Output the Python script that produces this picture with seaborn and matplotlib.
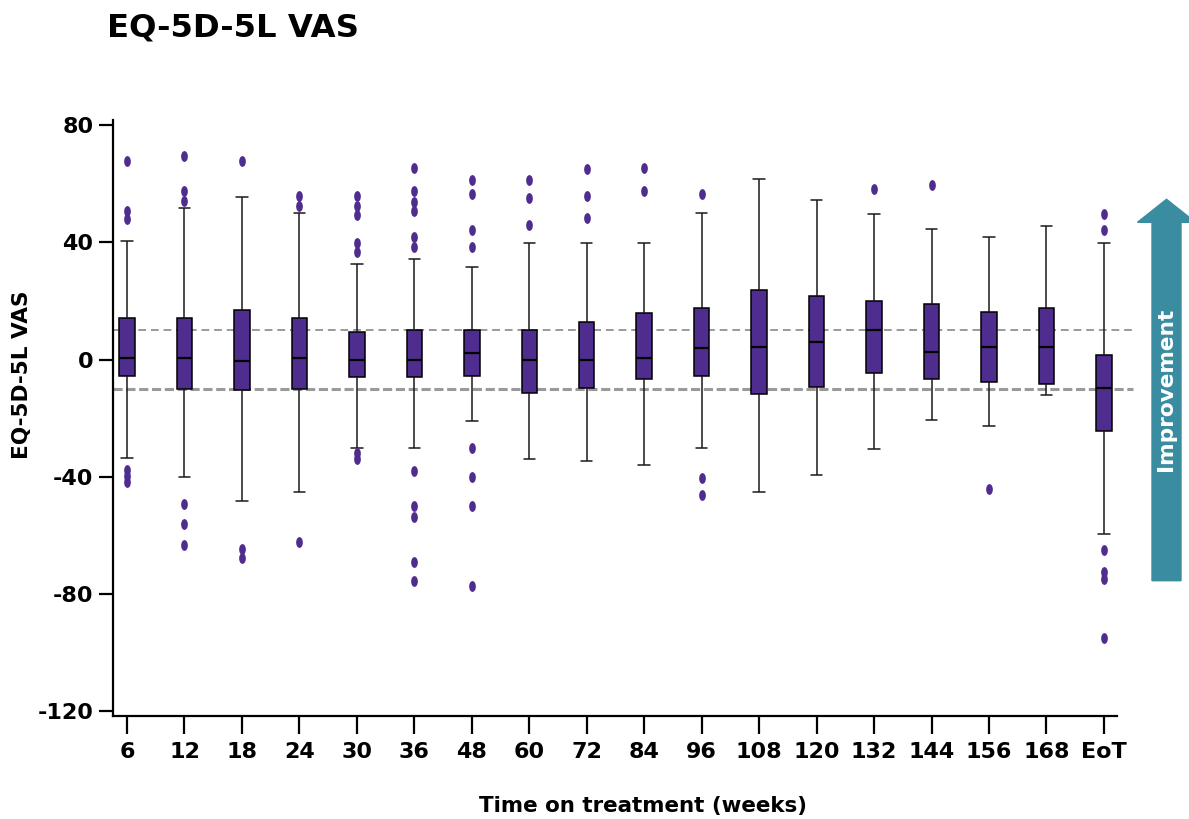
import numpy as np
import pandas as pd
import matplotlib
matplotlib.use("Agg")
import matplotlib.pyplot as plt
import seaborn as sns
from matplotlib.path import Path
from matplotlib.transforms import Affine2D
from matplotlib.patches import FancyArrow

# ---------------- data ----------------
weeks = ["6", "12", "18", "24", "30", "36", "48", "60", "72", "84",
         "96", "108", "120", "132", "144", "156", "168", "EoT"]
whisker_low = [-33.6, -40.1, -48.4, -45.1, -30.3, -30.0, -20.9, -33.8, -34.7,
               -36.1, -30.2, -45.3, -39.2, -30.5, -20.5, -22.6, -12.2, -59.6]
q1 = [-5.5, -10.0, -10.2, -10.0, -6.0, -6.0, -5.6, -11.4, -9.5,
      -6.5, -5.5, -11.7, -9.2, -4.5, -6.5, -7.5, -8.3, -24.2]
median = [0.5, 0.7, -0.5, 0.5, -0.1, 0.0, 2.2, 0.0, 0.0,
          0.5, 4.0, 4.2, 6.0, 10.2, 2.5, 4.4, 4.4, -9.8]
q3 = [14.1, 14.1, 17.0, 14.1, 9.3, 10.0, 10.0, 10.0, 12.7,
      15.9, 17.5, 23.9, 21.6, 19.9, 19.0, 16.1, 17.8, 1.5]
whisker_high = [40.6, 51.7, 55.6, 50.2, 32.7, 34.5, 31.7, 39.8, 39.8,
                39.8, 50.1, 61.6, 54.4, 49.8, 44.5, 41.7, 45.7, 39.8]

outlier_week = (["6"] * 6 + ["12"] * 6 + ["18"] * 3 + ["24"] * 3 + ["30"] * 7
                + ["36"] * 11 + ["48"] * 8 + ["60"] * 3 + ["72"] * 3 + ["84"] * 2
                + ["96"] * 3 + ["132"] + ["144"] + ["156"] + ["EoT"] * 6)
outlier_value = [67.9, 50.9, 48.1, -37.7, -39.8, -41.8,
                 69.6, 57.5, 54.0, -49.4, -56.1, -63.1,
                 67.9, -64.5, -67.6,
                 55.9, 52.3, -62.3,
                 55.9, 52.3, 49.3, 39.8, 36.7, -32.0, -33.9,
                 65.3, 57.4, 53.8, 50.6, 41.8, 38.4, -38.1, -50.0, -53.8, -69.0, -75.6,
                 61.3, 56.6, 44.3, 38.4, -30.1, -39.9, -50.0, -77.2,
                 61.3, 55.3, 46.1,
                 65.1, 55.7, 48.3,
                 65.3, 57.4,
                 56.5, -40.3, -46.3,
                 58.3,
                 59.5,
                 -44.2,
                 49.7, 44.1, -65.1, -72.5, -74.8, -94.9]

reference_levels = [10, -10]
y_ticks = [80, 40, 0, -40, -80, -120]

title = "EQ-5D-5L VAS"
y_label = "EQ-5D-5L VAS"
x_label = "Time on treatment (weeks)"
arrow_label = "Improvement"

# ---------------- styling ----------------
PURPLE = "#4F2D8F"
TEAL = "#3A8DA0"
GRAY = "#9a9a9a"

# five-number summaries -> long-form rows (quartiles reproduce exactly with n=5)
rows = []
for w, a, b, c, d, e in zip(weeks, whisker_low, q1, median, q3, whisker_high):
    for v in (a, b, c, d, e):
        rows.append({"week": w, "value": v})
box_df = pd.DataFrame(rows)
out_df = pd.DataFrame({"week": outlier_week, "value": outlier_value})

sns.set_theme(style="ticks")
plt.rcParams["font.family"] = ["DejaVu Sans"]
plt.rcParams["font.weight"] = "bold"
plt.rcParams["text.color"] = "black"
plt.rcParams["axes.labelcolor"] = "black"

fig = plt.figure(figsize=(11.89, 8.19), dpi=100)
ax = fig.add_axes([0.0950, 0.1258, 0.8444, 0.7277])

# reference lines (behind boxes, extending past the axis end)
ax.hlines(reference_levels[0], -0.244, 17.5, colors=GRAY, linewidth=1.4,
          linestyles=(0, (4, 2.5)), zorder=0.5, clip_on=False)
ax.hlines(reference_levels[1], -0.244, 17.5, colors=GRAY, linewidth=2.2,
          linestyles=(0, (3, 1.2)), zorder=0.5, clip_on=False)

sns.boxplot(data=box_df, x="week", y="value", order=weeks, ax=ax,
            color=PURPLE, saturation=1, width=0.27, whis=(0, 100),
            linecolor="black", linewidth=1.1, capwidths=0.2,
            medianprops={"linewidth": 1.6, "color": "black"},
            whiskerprops={"color": "#1a1a1a"}, capprops={"color": "#1a1a1a"})

ellipse = Path.unit_circle().transformed(Affine2D().scale(0.62, 1.0))
sns.stripplot(data=out_df, x="week", y="value", order=weeks, ax=ax,
              jitter=False, color=PURPLE, size=7.8, marker=ellipse,
              linewidth=0, zorder=3)

ax.set_xlim(-0.244, 17.226)
ax.set_ylim(-121.6, 81.8)
ax.set_yticks(y_ticks)
ax.set_yticklabels([str(t) for t in y_ticks])

for side in ("top", "right"):
    ax.spines[side].set_visible(False)
for side in ("left", "bottom"):
    ax.spines[side].set_linewidth(1.6)
    ax.spines[side].set_color("black")

ax.tick_params(axis="y", length=10, width=1.6, pad=4, labelsize=16, colors="black")
ax.tick_params(axis="x", length=13, width=1.6, pad=6, labelsize=16, colors="black")
for lbl in ax.get_xticklabels() + ax.get_yticklabels():
    lbl.set_fontweight("bold")

ax.set_xlabel(x_label, fontsize=15.4, fontweight="bold", color="black")
ax.set_ylabel(y_label, fontsize=15.6, fontweight="bold", color="black")
ax.xaxis.set_label_coords(0.528, -0.151)
ax.xaxis.label.set_va("center")
ax.yaxis.set_label_coords(-0.0906, 0.572)
ax.yaxis.label.set_va("center")

fig.text(107 / 1189, 1 - 28 / 819, title, ha="left", va="center",
         fontsize=23.2, fontweight="bold", color="black")

# improvement arrow (in inches from the figure's lower-left corner)
arrow = FancyArrow(11.665, 2.383, 0, 6.197 - 2.383, width=0.29,
                   head_width=0.58, head_length=0.23, length_includes_head=True,
                   color=TEAL, transform=fig.dpi_scale_trans, clip_on=False)
fig.add_artist(arrow)
fig.text(1166 / 1189, 1 - 389 / 819, arrow_label, rotation=90, ha="center",
         va="center", color="white", fontsize=15.6, fontweight="bold")

fig.savefig("out.png", dpi=100)
